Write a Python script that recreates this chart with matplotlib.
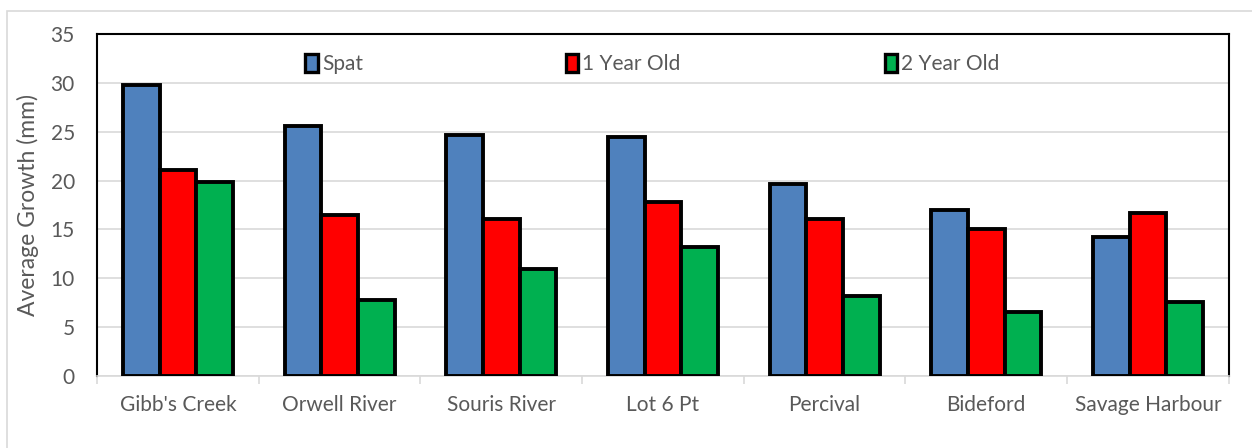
import matplotlib.pyplot as plt
from matplotlib.patches import Patch, Rectangle
from matplotlib.legend import Legend
import numpy as np

plt.rcParams['font.family'] = ['Lato', 'DejaVu Sans']

# average growth per site, by age class
sites = ["Gibb's Creek", "Orwell River", "Souris River", "Lot 6 Pt",
         "Percival", "Bideford", "Savage Harbour"]
spat = [29.8, 25.6, 24.7, 24.5, 19.6, 17.0, 14.2]
one_year = [21.1, 16.5, 16.1, 17.8, 16.1, 15.0, 16.7]
two_year = [19.8, 7.8, 10.9, 13.2, 8.2, 6.5, 7.6]
series_names = ['Spat', '1 Year Old', '2 Year Old']
colors = ['#4f81bd', '#ff0000', '#00b050']

grey = '#595959'
fig = plt.figure(figsize=(12.52, 4.48), dpi=100)
ax = fig.add_axes([0.0775, 0.161, 0.904, 0.763])

x = np.arange(len(sites))
w = 0.227
for i, vals in enumerate([spat, one_year, two_year]):
    ax.bar(x + (i - 1) * w, vals, w, color=colors[i], edgecolor='black',
           linewidth=2.8, zorder=3)

ax.set_xlim(-0.5, len(sites) - 0.5)
ax.set_ylim(0, 35)
ax.set_yticks(range(0, 36, 5))
ax.yaxis.grid(True, color='#d9d9d9', linewidth=1.2, zorder=0)
ax.set_xticks(x)
ax.set_xticklabels(sites, fontsize=15, color=grey)
ax.set_xticks(np.arange(-0.5, len(sites)), minor=True)
ax.tick_params(axis='x', which='major', length=0, pad=14)
ax.tick_params(axis='x', which='minor', length=6, color='#d9d9d9', width=1.2)
ax.tick_params(axis='y', length=0, labelsize=15, labelcolor=grey, pad=16)
ax.set_ylabel('Average Growth (mm)', fontsize=16.5, color=grey, labelpad=8)

for side in ['left', 'top', 'right']:
    ax.spines[side].set_color('black')
    ax.spines[side].set_linewidth(1.5)
ax.spines['bottom'].set_color('#d9d9d9')
ax.spines['bottom'].set_linewidth(1.2)

# one legend entry per slot across the top of the plot
for name, col, xpos in zip(series_names, colors, [0.184, 0.414, 0.696]):
    leg = Legend(ax, [Patch(facecolor=col, edgecolor='black', linewidth=2.4)], [name],
                 loc='center left', bbox_to_anchor=(xpos, 0.912),
                 frameon=False, fontsize=15, handlelength=0.6,
                 handleheight=0.95, handletextpad=0.2, borderaxespad=0,
                 borderpad=0)
    for t in leg.get_texts():
        t.set_color(grey)
    ax.add_artist(leg)

# light frame around the chart area
fig.patches.append(Rectangle((0.0056, -0.01), 1.0, 0.985, transform=fig.transFigure,
                             fill=False, edgecolor='#d9d9d9', linewidth=1.2))

fig.savefig('out.png', dpi=100)
